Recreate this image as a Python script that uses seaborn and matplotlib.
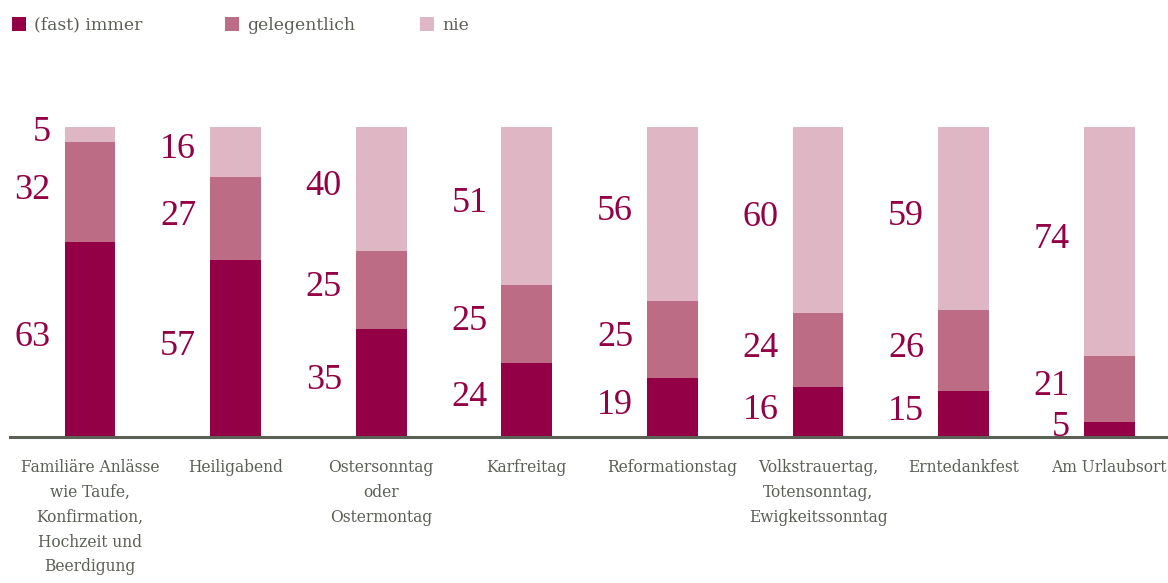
import matplotlib
matplotlib.use("Agg")
import matplotlib.pyplot as plt
import seaborn as sns
import pandas as pd
import numpy as np
from matplotlib.patches import Rectangle

categories = [
    "Familiäre Anlässe\nwie Taufe,\nKonfirmation,\nHochzeit und\nBeerdigung",
    "Heiligabend",
    "Ostersonntag\noder\nOstermontag",
    "Karfreitag",
    "Reformationstag",
    "Volkstrauertag,\nTotensonntag,\nEwigkeitssonntag",
    "Erntedankfest",
    "Am Urlaubsort",
]
series_names = ["(fast) immer", "gelegentlich", "nie"]
immer = [63, 57, 35, 24, 19, 16, 15, 5]
gelegentlich = [32, 27, 25, 25, 25, 24, 26, 21]
nie = [5, 16, 40, 51, 56, 60, 59, 74]

colors = ["#930045", "#bc6c85", "#deb6c4"]
text_grey = "#5a5f55"
num_color = "#930045"

sns.set_theme(style="white")
plt.rcParams["font.family"] = ["DejaVu Serif"]

fig = plt.figure(figsize=(11.68, 5.83), dpi=100)
W, H = 1168, 583
ax = fig.add_axes([10 / W, (H - 437) / H, (W - 10) / W, (437 - 127) / H])

series = [immer, gelegentlich, nie]
cum = np.cumsum(np.array(series), axis=0)  # cumulative tops
idx = list(range(len(categories)))
# Draw from the top layer down so each stack segment shows
for k in [2, 1, 0]:
    df = pd.DataFrame({"cat": idx, "val": cum[k]})
    sns.barplot(data=df, x="cat", y="val", color=colors[k], width=0.35,
                saturation=1, ax=ax, order=idx, errorbar=None,
                edgecolor="none", linewidth=0)

bar_w = 0.35
for i in idx:
    bottom = 0
    for k in range(3):
        v = series[k][i]
        mid = bottom + v / 2
        ax.annotate(str(v), xy=(i - bar_w / 2, mid), xytext=(-10, 1.5),
                    textcoords="offset points", ha="right", va="center",
                    fontsize=26, color=num_color, family="Liberation Serif")
        bottom += v

x0 = (10 - 90) / 145.6
x1 = (1168 - 90) / 145.6
ax.set_xlim(x0, x1)
ax.set_ylim(0, 100)
ax.set_yticks([])
ax.set_xticks(idx)
ax.set_xticklabels(categories, fontsize=11.2, color=text_grey, linespacing=1.6, va="top")
for lbl in ax.get_xticklabels():
    lbl.set_linespacing(1.6)
ax.tick_params(axis="x", length=0, pad=16)
ax.set_xlabel("")
ax.set_ylabel("")
for s in ["top", "right", "left"]:
    ax.spines[s].set_visible(False)
ax.spines["bottom"].set_color("#5b6157")
ax.spines["bottom"].set_linewidth(2.2)
ax.set_facecolor("none")

# Legend
leg_x = [12, 225, 420]
for name, c, lx in zip(series_names, colors, leg_x):
    fig.patches.append(Rectangle((lx / W, (H - 31) / H), 14 / W, 14 / H,
                                 transform=fig.transFigure, facecolor=c,
                                 edgecolor="none"))
    fig.text((lx + 22) / W, (H - 25) / H, name, fontsize=12.4, color=text_grey,
             va="center", ha="left")

fig.savefig("out.png", dpi=100)
